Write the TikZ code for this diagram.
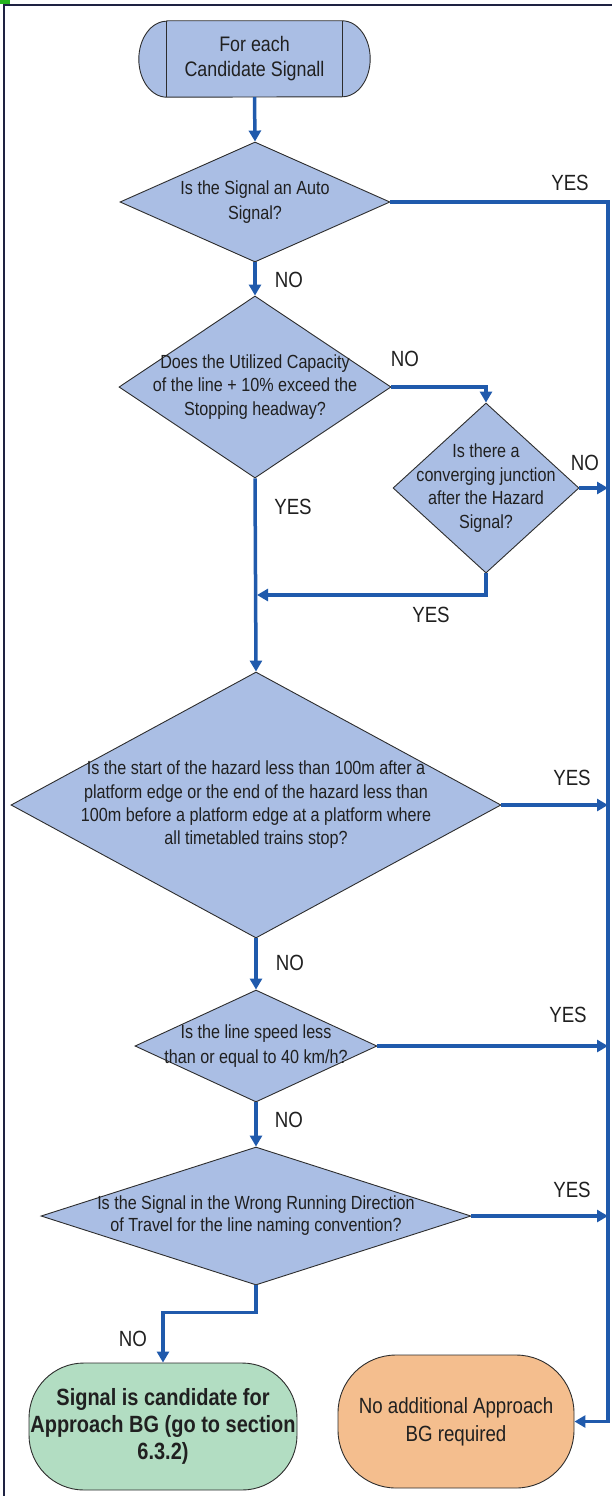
\documentclass[tikz,border=0pt]{standalone}
\usepackage{fontspec}
\setmainfont{Liberation Sans}[FakeStretch=0.85]
\usetikzlibrary{shapes.geometric,arrows.meta,backgrounds}
\definecolor{qfill}{RGB}{170,190,228}
\definecolor{gfill}{RGB}{178,221,194}
\definecolor{ofill}{RGB}{244,190,142}
\definecolor{flowc}{RGB}{32,90,172}
\definecolor{edgec}{RGB}{45,45,45}
\definecolor{txtc}{RGB}{32,32,32}
\definecolor{framec}{RGB}{30,34,66}
\definecolor{tabc}{RGB}{40,180,30}
\begin{document}
\begin{tikzpicture}[x=1pt,y=-1pt,
  qbox/.style={diamond,draw=edgec,line width=0.9pt,fill=qfill,inner sep=0pt},
  qtext/.style={align=center,text=txtc,inner sep=0pt,font=\fontsize{19}{24}\selectfont},
  endbox/.style={rectangle,draw=edgec,line width=0.9pt,align=center,text=txtc,inner sep=0pt},
  flow/.style={draw=flowc,line width=3.5pt,-{Triangle[length=11pt,width=12pt]}},
  lbl/.style={text=txtc,inner sep=0pt,font=\fontsize{22}{26}\selectfont}]
\useasboundingbox (0,0) rectangle (612,1496);

% page frame and corner tab
\draw[framec,line width=2.5pt] (4,1496) -- (4,5) -- (612,5);
\fill[tabc] (0,0) rectangle (10,4);

% start terminal
\node[minimum width=175pt,minimum height=76pt,inner sep=0pt,align=center,text=txtc,
      font=\fontsize{21}{25}\selectfont] (start) at (254.5,59) {For each\\Candidate Signall};
\begin{scope}[on background layer]
  \draw[edgec,line width=0.9pt,fill=qfill]
    (start.north west) -- (start.north east)
    arc[start angle=-90,end angle=90,x radius=28,y radius=38]
    -- (start.south west)
    arc[start angle=90,end angle=270,x radius=28,y radius=38] -- cycle;
  \draw[edgec,line width=0.9pt] (start.north west) -- (start.south west);
  \draw[edgec,line width=0.9pt] (start.north east) -- (start.south east);
\end{scope}

% decisions
\node[qbox,minimum width=270pt,minimum height=120pt,
      label={[qtext,font=\fontsize{19}{25}\selectfont]center:Is the Signal an Auto\\Signal?}]
      (q1) at (255,202) {};
\node[qbox,minimum width=272pt,minimum height=182pt,
      label={[qtext,font=\fontsize{19}{23.5}\selectfont]center:Does the Utilized Capacity\\of the line + 10\% exceed the\\Stopping headway?}]
      (q2) at (255,387) {};
\node[qbox,minimum width=186pt,minimum height=170pt,
      label={[qtext,font=\fontsize{19}{23.5}\selectfont]center:Is there a\\converging junction\\after the Hazard\\Signal?}]
      (q3) at (486,488) {};
\node[qbox,minimum width=490pt,minimum height=266pt,
      label={[qtext,font=\fontsize{19}{23.3}\selectfont]center:Is the start of the hazard less than 100m after a\\platform edge or the end of the hazard less than\\100m before a platform edge at a platform where\\all timetabled trains stop?}]
      (q4) at (256,805) {};
\node[qbox,minimum width=242pt,minimum height=112pt,
      label={[qtext,font=\fontsize{19}{25}\selectfont]center:Is the line speed less\\than or equal to 40 km/h?}]
      (q5) at (256,1046) {};
\node[qbox,minimum width=430pt,minimum height=138pt,
      label={[qtext,font=\fontsize{19}{22}\selectfont]center:Is the Signal in the Wrong Running Direction\\of Travel for the line naming convention?}]
      (q6) at (256,1216) {};

% outcomes
\node[endbox,fill=gfill,rounded corners=55pt,minimum width=268pt,minimum height=127pt,
      font=\bfseries\fontsize{23.5}{27}\selectfont]
      (cand) at (163,1426.5) {Signal is candidate for\\Approach BG (go to section\\6.3.2)};
\node[endbox,fill=ofill,rounded corners=58pt,minimum width=236pt,minimum height=133pt,
      font=\fontsize{22}{28}\selectfont]
      (done) at (456,1421.5) {No additional Approach\\BG required};

% right-hand collector line
\coordinate (ttop) at (608,202);
\coordinate (tbot) at (608,1421.5);
\coordinate (merge) at (257,595);

% connectors
\draw[flow] (start.south) -- (q1.north);
\draw[flow] (q1.south) -- (q2.north);
\draw[flow] (q2.east) -| (q3.north);
\draw[flow] (q2.south) -- (q4.north);
\draw[flow] (q3.south) |- (merge);
\draw[flow] (q3.east) -- (q3.east -| ttop);
\draw[flow] (q4.east) -- (q4.east -| ttop);
\draw[flow] (q4.south) -- (q5.north);
\draw[flow] (q5.east) -- (q5.east -| ttop);
\draw[flow] (q5.south) -- (q6.north);
\draw[flow] (q6.east) -- (q6.east -| ttop);
\draw[flow] (q6.south) -- ++(0,27) -| (cand.north);
\draw[flow] (q1.east) -- (ttop) -- (tbot) -- (done.east);

% branch labels
\node[lbl] (y1) at (570,183) {YES};
\node[lbl] (n1) at (289,280) {NO};
\node[lbl] (n2) at (405,359) {NO};
\node[lbl] (n3) at (585,463) {NO};
\node[lbl] (y2) at (293,507) {YES};
\node[lbl] (y3) at (431,615) {YES};
\node[lbl] (y4) at (572,778) {YES};
\node[lbl] (n4) at (290,963) {NO};
\node[lbl] (y5) at (568,1015) {YES};
\node[lbl] (n5) at (289,1120) {NO};
\node[lbl] (y6) at (572,1190) {YES};
\node[lbl] (n6) at (133,1339) {NO};
\end{tikzpicture}
\end{document}
